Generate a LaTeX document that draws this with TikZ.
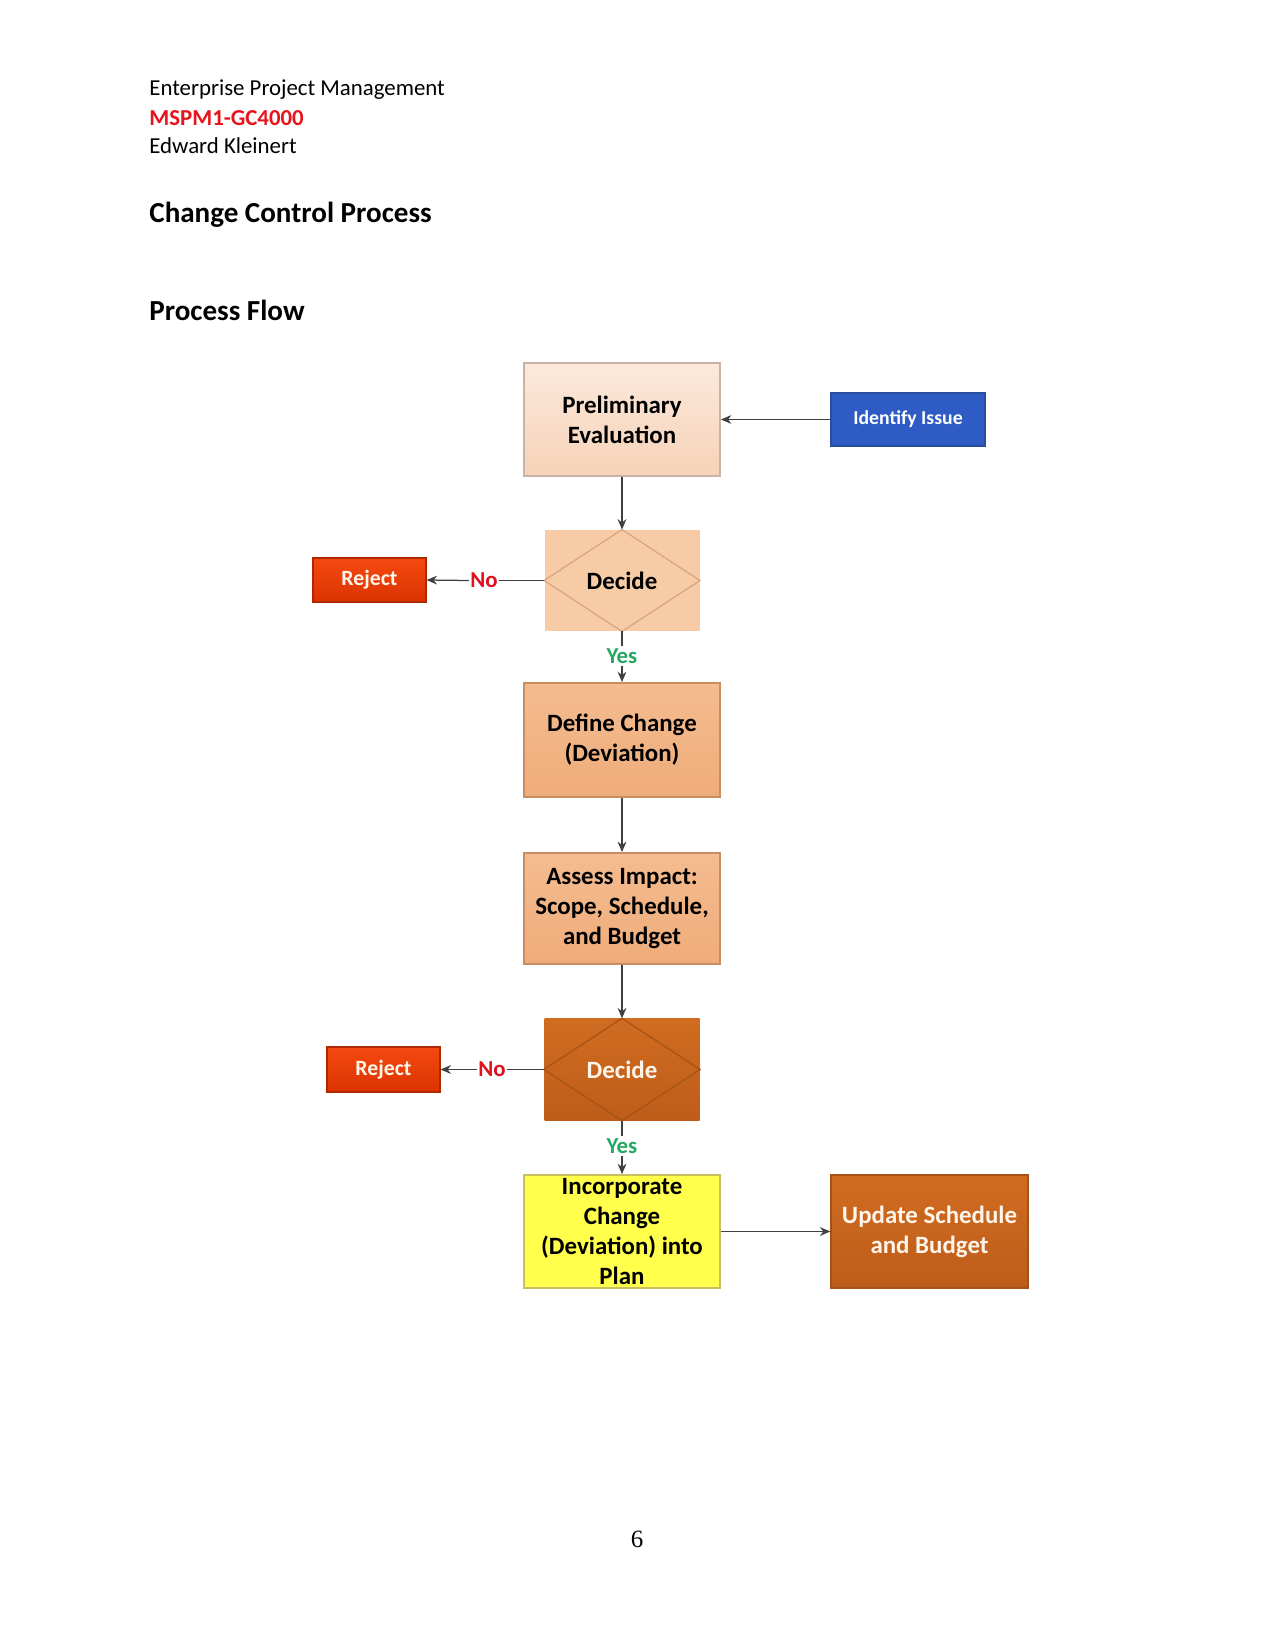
\documentclass[tikz,border=0pt]{standalone}
\usepackage{fontspec}
\setmainfont{Carlito}
\newfontfamily\pagenumfont{Liberation Serif}
\usetikzlibrary{arrows.meta,shapes.geometric}
\definecolor{prelimtop}{HTML}{FCE9DC}
\definecolor{prelimbot}{HTML}{F6D2B8}
\definecolor{prelimdraw}{HTML}{C9B3A4}
\definecolor{issueblue}{HTML}{2F5CC4}
\definecolor{issuedraw}{HTML}{2A4FA0}
\definecolor{decidelight}{HTML}{F6CBA6}
\definecolor{decidelightline}{HTML}{D9A582}
\definecolor{rejtop}{HTML}{F44A10}
\definecolor{rejbot}{HTML}{DC3200}
\definecolor{rejdraw}{HTML}{B02800}
\definecolor{peachtop}{HTML}{F4BC90}
\definecolor{peachbot}{HTML}{EFAC7A}
\definecolor{peachdraw}{HTML}{C88E62}
\definecolor{darkorangetop}{HTML}{D06C20}
\definecolor{darkorangebot}{HTML}{BE5C1A}
\definecolor{darkorangedraw}{HTML}{A65218}
\definecolor{darkdiamond}{HTML}{A55418}
\definecolor{yellowfill}{HTML}{FFFF4C}
\definecolor{yellowdraw}{HTML}{C8C060}
\definecolor{yesgreen}{HTML}{22A860}
\definecolor{nored}{HTML}{E0101E}
\definecolor{codered}{HTML}{E8141C}
\definecolor{arrowgray}{HTML}{404040}
\tikzset{
  box/.style={rectangle, inner sep=0pt, align=center, font=\fontsize{12}{14.5}\selectfont\bfseries},
  prelimbox/.style={box, draw=prelimdraw, line width=0.9bp, top color=prelimtop, bottom color=prelimbot, text=black},
  issuebox/.style={box, draw=issuedraw, line width=0.8bp, fill=issueblue, text=white, font=\fontsize{9.5}{11}\selectfont\bfseries},
  decidelightbox/.style={box, fill=decidelight, text=black},
  rejbox/.style={box, draw=rejdraw, line width=0.6bp, top color=rejtop, bottom color=rejbot, text=white!92!orange, font=\fontsize{10.5}{12}\selectfont\bfseries},
  peachbox/.style={box, draw=peachdraw, line width=0.9bp, top color=peachtop, bottom color=peachbot, text=black},
  darkbox/.style={box, draw=darkorangedraw, line width=0.6bp, top color=darkorangetop, bottom color=darkorangebot, text=white!92!orange},
  yellowbox/.style={box, draw=yellowdraw, line width=0.9bp, fill=yellowfill, text=black},
  yeslabel/.style={inner sep=1pt, fill=white, text=yesgreen, font=\fontsize{11}{12}\selectfont\bfseries},
  nolabel/.style={inner sep=0.5pt, fill=white, text=nored, font=\fontsize{11}{12}\selectfont\bfseries},
  conn/.style={draw=arrowgray, line width=0.6bp},
  arr/.style={conn, -{Stealth[length=5bp,width=4.2bp]}},
  headtext/.style={anchor=west, inner sep=0pt, font=\fontsize{11}{13}\selectfont},
  headbig/.style={anchor=west, inner sep=0pt, font=\fontsize{14}{17}\selectfont\bfseries},
}
\begin{document}
\begin{tikzpicture}[x=0.48bp, y=-0.48bp]
\useasboundingbox[fill=white] (0,0) rectangle (1275,1651);

% header
\node[headtext] (h1) at (149,90) {Enterprise Project Management};
\node[headtext, text=codered, font=\fontsize{11}{13}\selectfont\bfseries] (h2) at (149,118) {MSPM1-GC4000};
\node[headtext] (h3) at (149,146) {Edward Kleinert};
\node[headbig] (h4) at (149,215) {Change Control Process};
\node[headbig] (h5) at (149,310) {Process Flow};

% boxes
\node[prelimbox, minimum width=94.1bp, minimum height=54.2bp] (prelim) at (622,419.5) {Preliminary\\Evaluation};
\node[issuebox, minimum width=73.9bp, minimum height=25.4bp] (issue) at (908,419.5) {Identify Issue};

\node[decidelightbox, minimum width=74.4bp, minimum height=48.5bp] (dec1) at (622,580.5) {};
\draw[decidelightline, line width=0.6bp] (dec1.north) -- (dec1.east) -- (dec1.south) -- (dec1.west) -- cycle;
\node[box] (dec1t) at (dec1.center) {Decide};

\node[rejbox, minimum width=54.2bp, minimum height=21.1bp] (rej1) at (369.5,580) {Reject};
\node[nolabel] (no1) at (484,580.5) {No};
\node[yeslabel] (yes1) at (622,656) {Yes};

\node[peachbox, minimum width=94.1bp, minimum height=54.7bp] (define) at (622,740) {Define Change\\(Deviation)};
\node[peachbox, minimum width=94.1bp, minimum height=53.3bp] (assess) at (622,908.5) {Assess Impact:\\Scope, Schedule,\\and Budget};

\node[darkbox, draw=none, minimum width=74.4bp, minimum height=48.5bp] (dec2) at (622,1069.5) {};
\draw[darkdiamond, line width=0.6bp] (dec2.north) -- (dec2.east) -- (dec2.south) -- (dec2.west) -- cycle;
\node[box, text=white!92!orange] (dec2t) at (dec2.center) {Decide};

\node[rejbox, minimum width=54.2bp, minimum height=21.6bp] (rej2) at (383.5,1069.5) {Reject};
\node[nolabel] (no2) at (492,1069.5) {No};
\node[yeslabel] (yes2) at (622,1146) {Yes};

\node[yellowbox, minimum width=94.1bp, minimum height=54.2bp] (incorp) at (622,1231.5) {Incorporate\\Change\\(Deviation) into\\Plan};
\node[darkbox, minimum width=94.6bp, minimum height=54.2bp] (update) at (929.5,1231.5) {Update Schedule\\and Budget};

% connectors
\draw[arr] (issue.west) -- (prelim.east);
\draw[arr] (prelim.south) -- (dec1.north);
\draw[conn] (dec1.west) -- (no1.east);
\draw[arr] (no1.west) -- (rej1.east);
\draw[conn] (dec1.south) -- (yes1.north);
\draw[arr] (yes1.south) -- (define.north);
\draw[arr] (define.south) -- (assess.north);
\draw[arr] (assess.south) -- (dec2.north);
\draw[conn] (dec2.west) -- (no2.east);
\draw[arr] (no2.west) -- (rej2.east);
\draw[conn] (dec2.south) -- (yes2.north);
\draw[arr] (yes2.south) -- (incorp.north);
\draw[arr] (incorp.east) -- (update.west);

% page number
\node[inner sep=0pt, font=\pagenumfont\fontsize{12}{14}\selectfont] (pnum) at (637,1539) {6};
\end{tikzpicture}
\end{document}
